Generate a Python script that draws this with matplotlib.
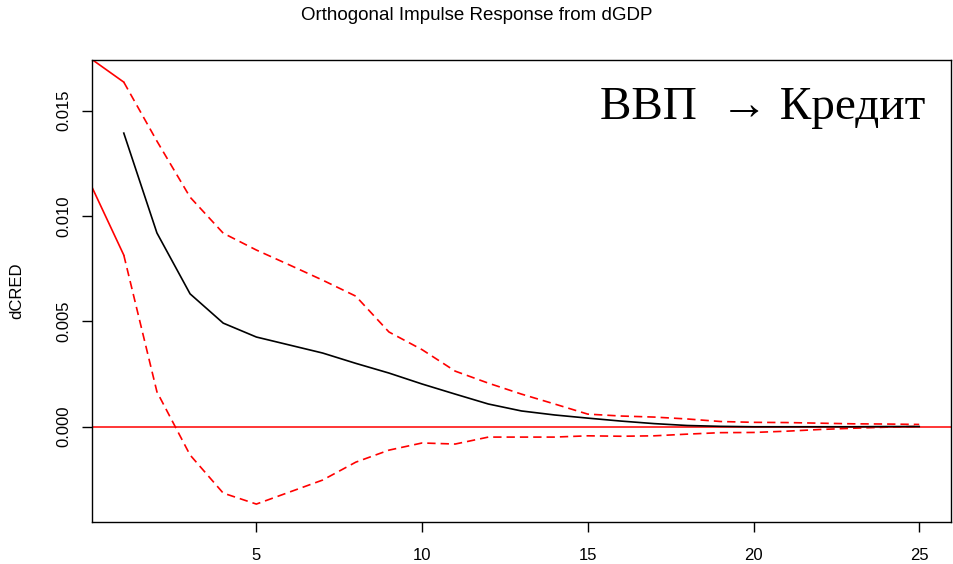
import matplotlib.pyplot as plt

# horizon (1..25) and responses
steps = list(range(1, 26))
irf = [0.01393, 0.00919, 0.00630, 0.00491, 0.00425, 0.00387, 0.00349, 0.00300,
       0.00254, 0.00202, 0.00154, 0.00107, 0.00074, 0.00055, 0.00040, 0.00026,
       0.00014, 0.00005, 0.00001, -0.00001, -0.00001, -0.00001, -0.00001, 0.0, 0.0]
upper = [0.01635, 0.01355, 0.01089, 0.00918, 0.00838, 0.00767, 0.00695, 0.00619,
         0.00449, 0.00365, 0.00263, 0.00206, 0.00154, 0.00107, 0.00059, 0.00050,
         0.00045, 0.00036, 0.00024, 0.00020, 0.00019, 0.00016, 0.00013, 0.00012, 0.00010]
lower = [0.00814, 0.00165, -0.00135, -0.00316, -0.00368, -0.00311, -0.00254, -0.00169,
         -0.00112, -0.00078, -0.00083, -0.00050, -0.00050, -0.00050, -0.00044, -0.00046,
         -0.00044, -0.00036, -0.00029, -0.00028, -0.00022, -0.00014, -0.00008, -0.00003, 0.00001]
# the two solid red stubs that run in from the left edge
stub_x = [0, 1]
stub_upper = [0.01747, 0.01635]
stub_lower = [0.0115, 0.00814]

plt.rcParams['font.family'] = ['Liberation Sans', 'DejaVu Sans']

fig = plt.figure(figsize=(9.54, 5.64), dpi=100)
ax = fig.add_axes([0.0964, 0.0745, 0.9005, 0.8191])

ax.axhline(0, color='red', lw=1.1)
ax.plot(stub_x, stub_upper, color='red', lw=1.2)
ax.plot(stub_x, stub_lower, color='red', lw=1.2)
ax.plot(steps, upper, color='red', lw=1.2, ls=(0, (5, 3)))
ax.plot(steps, lower, color='red', lw=1.2, ls=(0, (5, 3)))
ax.plot(steps, irf, color='black', lw=1.2)

ax.set_xlim(0.04, 25.96)
ax.set_ylim(-0.00453, 0.0174)
ax.set_xticks([5, 10, 15, 20, 25])
ax.set_yticks([0.0, 0.005, 0.010, 0.015])
ax.set_yticklabels(['0.000', '0.005', '0.010', '0.015'], rotation=90, va='center')
ax.tick_params(direction='out', length=7, width=1, labelsize=12)
ax.tick_params(axis='x', pad=12)
ax.tick_params(axis='y', pad=8)
for s in ax.spines.values():
    s.set_linewidth(1)
ax.set_ylabel('dCRED', fontsize=12, labelpad=23)

fig.text(0.5, 0.972, 'Orthogonal Impulse Response from dGDP', ha='center', va='center', fontsize=13.5)
ax.text(15.36, 0.0146, 'ВВП  → Кредит', fontsize=34, family=['Liberation Serif', 'DejaVu Serif'],
        ha='left', va='baseline')

fig.savefig('out.png', dpi=100)
